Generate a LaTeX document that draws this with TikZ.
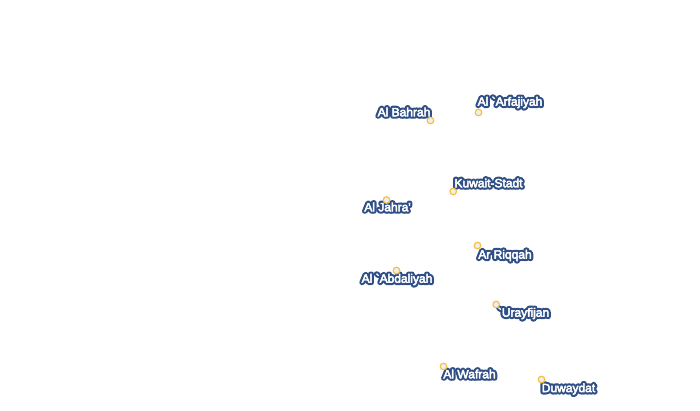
\documentclass[tikz,border=0pt]{standalone}
\usepackage{fontspec}
\setmainfont{Liberation Sans}
\newfontfamily\halofont[FakeBold=40]{Liberation Sans}
\newfontfamily\whitefont[FakeBold=4]{Liberation Sans}
\definecolor{halo}{HTML}{2F4F86}
\definecolor{ring}{HTML}{F5C04A}
\definecolor{ringfill}{HTML}{EEEEEE}
\newcommand{\halotext}[1]{\special{pdf:code 1 j 1 J}\makebox[0pt][l]{\halofont\color{halo}#1}{\whitefont\color{white}#1}}
\tikzset{
  site/.style={circle,draw=ring,fill=ringfill,line width=1.2pt,minimum size=6.6pt,inner sep=0pt},
  place/.style={inner sep=0pt,font=\fontsize{12}{14}\selectfont}
}
\begin{document}
\begin{tikzpicture}[x=1pt,y=-1pt]
\useasboundingbox (0,0) rectangle (700,410);
\node[place] (t1) at (404,112) {\halotext{Al Bahrah}};
\node[place] (t2) at (510,102.5) {\halotext{Al `Arfajiyah}};
\node[place] (t3) at (488.5,183) {\halotext{Kuwait-Stadt}};
\node[place] (t4) at (387.5,207) {\halotext{Al Jahra'}};
\node[place] (t5) at (505,255.5) {\halotext{Ar Riqqah}};
\node[place] (t6) at (397,279.5) {\halotext{Al `Abdaliyah}};
\node[place] (t7) at (523.5,313.5) {\halotext{`Urayfijan}};
\node[place] (t8) at (469.5,374) {\halotext{Al Wafrah}};
\node[place] (t9) at (568.5,389) {\halotext{Duwaydat}};
\node[site] (m1) at (430.5,120.5) {};
\node[site] (m2) at (478.5,112.5) {};
\node[site] (m3) at (453.2,191.5) {};
\node[site] (m4) at (386.5,200) {};
\node[site] (m5) at (477.5,245.5) {};
\node[site] (m6) at (396.5,270.5) {};
\node[site] (m7) at (496.2,304.5) {};
\node[site] (m8) at (443.5,366.5) {};
\node[site] (m9) at (541.5,379.5) {};
\end{tikzpicture}
\end{document}
